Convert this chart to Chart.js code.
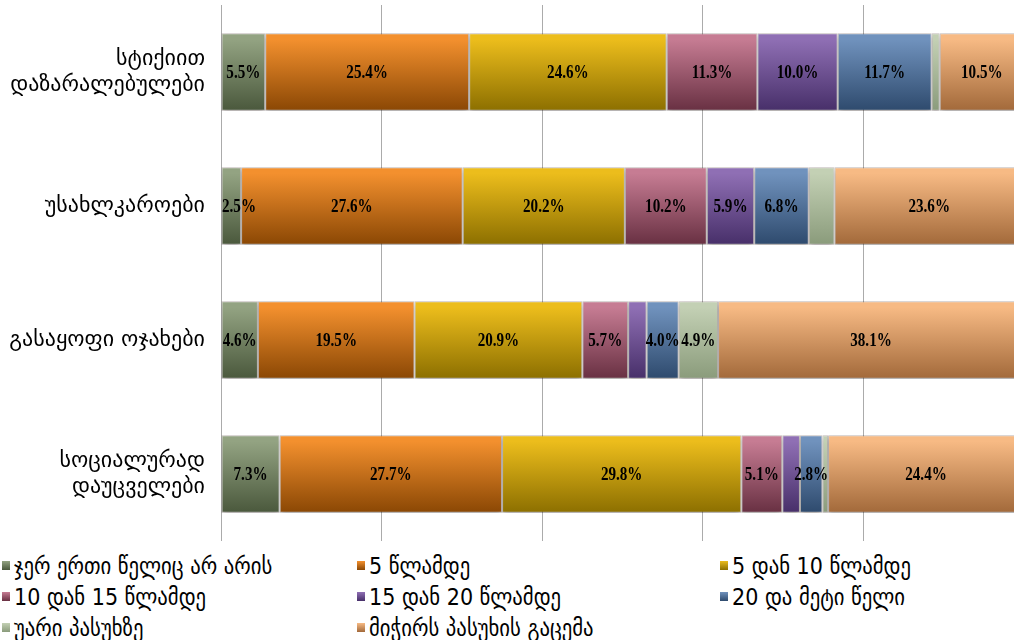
<!DOCTYPE html>
<html>
<head>
<meta charset="utf-8">
<script src="https://cdn.jsdelivr.net/npm/chart.js@4.4.1/dist/chart.umd.min.js"></script>
<style>
  html, body { margin: 0; padding: 0; background: #fff; overflow: hidden; width: 1014px; height: 640px; }
  #wrap { position: absolute; left: 0; top: 0; width: 1040px; height: 541px; }
  #legend { position: absolute; left: 2px; top: 550px; display: grid;
            grid-template-columns: 355px 363px 300px; grid-auto-rows: 31px;
            font-family: "DejaVu Sans Condensed", "DejaVu Sans", sans-serif; font-size: 23px; color: #000; }
  #legend div { display: flex; align-items: center; white-space: nowrap; }
  #legend span.box { width: 8px; height: 9px; margin-right: 4px; display: inline-block; flex: none; }
</style>
</head>
<body>
<div id="wrap"><canvas id="chart"></canvas></div>
<div id="legend"></div>
<script>
// Rows of the chart (top to bottom).
const categories = [
    ['სტიქიით', 'დაზარალებულები'],
    'უსახლკაროები',
    'გასაყოფი ოჯახები',
    ['სოციალურად', 'დაუცველები']
];
// Series names, as in the legend.
const seriesNames = [
    'ჯერ ერთი წელიც არ არის',
    '5  წლამდე',
    '5 დან 10 წლამდე',
    '10 დან 15 წლამდე',
    '15 დან 20 წლამდე',
    '20 და მეტი წელი',
    'უარი პასუხზე',
    'მიჭირს პასუხის გაცემა'
];
// Percent values per series, one value per row.
const neverYet   = [5.5, 2.5, 4.6, 7.3];
const upTo5      = [25.4, 27.6, 19.5, 27.7];
const from5to10  = [24.6, 20.2, 20.9, 29.8];
const from10to15 = [11.3, 10.2, 5.7, 5.1];
const from15to20 = [10.0, 5.9, 2.3, 2.2];
const over20     = [11.7, 6.8, 4.0, 2.8];
const refused    = [1.0, 3.2, 4.9, 0.7];
const hardToSay  = [10.5, 23.6, 38.1, 24.4];
// Value labels that are not shown in the picture: [series, row].
const hiddenLabels = [[6, 0], [6, 1], [4, 2], [4, 3], [6, 3]];
// Axis ticks (percent).
const xTicks = [0, 20, 40, 60, 80, 100];

// Gradient colors (top, bottom) for each series.
const colorPairs = [
    ['#93a382', '#4a583c'],
    ['#f3902e', '#8a4704'],
    ['#ecbd1c', '#8c6f00'],
    ['#c67c93', '#683042'],
    ['#8f6fb4', '#472f69'],
    ['#7092bd', '#2e4a6d'],
    ['#c3d0b4', '#8a9b7b'],
    ['#f7ba84', '#a2693a']
];

const allValues = [neverYet, upTo5, from5to10, from10to15, from15to20, over20, refused, hardToSay];

/**
 * Builds a vertical gradient over the bar of the given row.
 */
function barGradient( context, pair ) {
    const chart = context.chart;
    const yScale = chart.scales.y;
    if ( !chart.chartArea || !yScale || context.dataIndex === undefined ) {
        return pair[0];
    }
    const center = yScale.getPixelForValue( context.dataIndex );
    const half = yScale.getPixelForValue( 1 ) - yScale.getPixelForValue( 0 );
    const h = half * 0.29;
    const g = chart.ctx.createLinearGradient( 0, center - h, 0, center + h );
    g.addColorStop( 0, pair[0] );
    g.addColorStop( 0.08, pair[0] );
    g.addColorStop( 1, pair[1] );
    return g;
}

// Draws the percent labels in the middle of each segment.
const valueLabels = {
    id: 'valueLabels',
    afterDatasetsDraw( chart ) {
        const ctx = chart.ctx;
        const squeeze = 0.84;
        ctx.font = 'bold 18px "Liberation Serif", serif';
        ctx.fillStyle = '#000';
        ctx.textAlign = 'center';
        ctx.textBaseline = 'middle';
        chart.data.datasets.forEach( ( ds, i ) => {
            chart.getDatasetMeta( i ).data.forEach( ( el, j ) => {
                if ( hiddenLabels.some( h => h[0] === i && h[1] === j ) ) return;
                const text = ds.data[j].toFixed( 1 ) + '%';
                const halfW = ctx.measureText( text ).width * squeeze / 2;
                // Keep the label inside the plot on the left side.
                const x = Math.max( ( el.x + el.base ) / 2, chart.chartArea.left + halfW + 1 );
                // Narrow the glyphs a little, like the original condensed font.
                ctx.save();
                ctx.translate( x, el.y + 1 );
                ctx.scale( squeeze, 1 );
                ctx.fillText( text, 0, 0 );
                ctx.restore();
            });
        });
    }
};

// Soft shadow under the bars.
const barShadow = {
    id: 'barShadow',
    beforeDatasetsDraw( chart ) {
        chart.ctx.save();
        chart.ctx.shadowColor = 'rgba(0,0,0,0.28)';
        chart.ctx.shadowBlur = 5;
        chart.ctx.shadowOffsetY = 3;
    },
    afterDatasetsDraw( chart ) {
        chart.ctx.restore();
    }
};

const datasets = allValues.map( ( vals, i ) => ({
    label: seriesNames[i],
    data: vals,
    backgroundColor: ( c ) => barGradient( c, colorPairs[i] ),
    borderColor: 'rgba(60,40,30,0.3)',
    borderWidth: 1,
    borderSkipped: false,
    barPercentage: 0.58,
    categoryPercentage: 1.0
}));

const chart = new Chart( document.getElementById( 'chart' ), {
    type: 'bar',
    data: { labels: categories, datasets: datasets },
    plugins: [barShadow, valueLabels],
    options: {
        indexAxis: 'y',
        responsive: true,
        maintainAspectRatio: false,
        animation: false,
        layout: { padding: { top: 5, right: 16, bottom: 0, left: 0 } },
        plugins: {
            legend: { display: false },
            tooltip: { enabled: false },
            title: { display: false }
        },
        scales: {
            x: {
                stacked: true,
                min: 0,
                max: 100,
                afterBuildTicks: ( s ) => { s.ticks = xTicks.map( v => ({ value: v }) ); },
                afterFit: ( s ) => { s.height = 0; s.paddingLeft = 0; s.paddingRight = 0; },
                ticks: { display: false },
                grid: { color: '#ababab', drawTicks: false, lineWidth: 1 },
                border: { display: false }
            },
            y: {
                stacked: true,
                afterFit: ( s ) => { s.width = 221; s.paddingTop = 0; s.paddingBottom = 0; },
                ticks: {
                    color: '#000',
                    padding: 8,
                    font: { family: '"DejaVu Sans", sans-serif', size: 22, lineHeight: 1.2 }
                },
                grid: { display: false },
                border: { display: true, color: '#ababab' }
            }
        }
    }
});

// Legend in three columns, built from the series.
const legend = document.getElementById( 'legend' );
seriesNames.forEach( ( name, i ) => {
    const item = document.createElement( 'div' );
    const box = document.createElement( 'span' );
    box.className = 'box';
    box.style.background = 'linear-gradient(' + colorPairs[i][0] + ',' + colorPairs[i][1] + ')';
    item.appendChild( box );
    item.appendChild( document.createTextNode( name ) );
    legend.appendChild( item );
});
</script>
</body>
</html>
